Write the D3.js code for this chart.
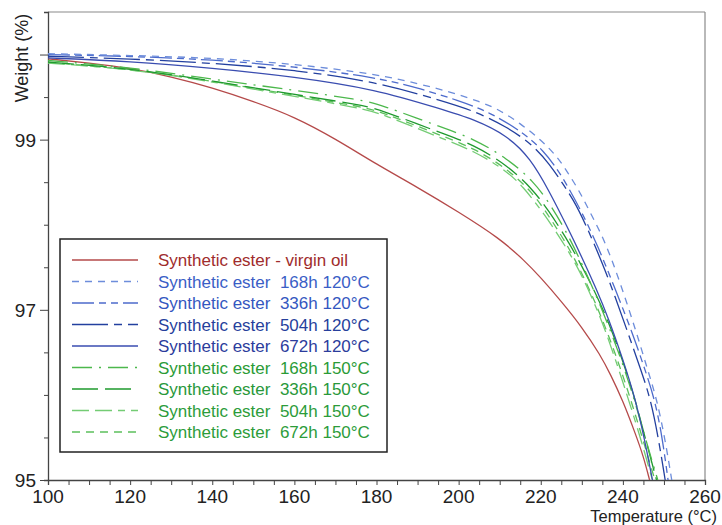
<!DOCTYPE html>
<html><head><meta charset="utf-8">
<script src="https://cdn.jsdelivr.net/npm/d3@7"></script>
<style>
body{margin:0;background:#fff;}
text{font-family:"Liberation Sans",Arial,sans-serif;}
</style></head>
<body><svg id="c" width="722" height="525"></svg>
<script>
// ---- data ----
const xTicks = [100,120,140,160,180,200,220,240,260];
const yLabels = [95,97,99];
const seriesLabels = [
 "Synthetic ester - virgin oil",
 "Synthetic ester\u00a0 168h 120°C",
 "Synthetic ester\u00a0 336h 120°C",
 "Synthetic ester\u00a0 504h 120°C",
 "Synthetic ester\u00a0 672h 120°C",
 "Synthetic ester\u00a0 168h 150°C",
 "Synthetic ester\u00a0 336h 150°C",
 "Synthetic ester\u00a0 504h 150°C",
 "Synthetic ester\u00a0 672h 150°C"
];
const virginT = [100,110,120,130,140,150,160,170,180,190,200,210,216,220,225,230,234.5,237,240,243,245,246.5];
const virginW = [99.95,99.90,99.84,99.74,99.61,99.45,99.27,99.01,98.71,98.44,98.15,97.84,97.58,97.38,97.10,96.80,96.47,96.24,95.93,95.55,95.28,95.0];
const b168T = [100,120,140,160,180,190,198,205,210,215,220,224,226.5,229.6,232.5,235.7,239.5,243.4,246,248.2,250.2,251.9];
const b168W = [100.01,99.99,99.96,99.89,99.77,99.66,99.56,99.45,99.35,99.19,99.00,98.80,98.62,98.38,98.10,97.80,97.30,96.72,96.30,95.96,95.50,95.0];
const b336T = [100,120,140,160,180,190,200,207.7,215.8,220.7,223.9,226,230,234,238,242.4,245.5,247.8,249.6,251.0];
const b336W = [100.00,99.98,99.94,99.86,99.73,99.61,99.46,99.32,99.08,98.87,98.66,98.50,98.15,97.74,97.26,96.72,96.28,95.94,95.50,95.0];
const b504T = [100,120,140,160,180,195.6,203.7,211.8,218.3,222.3,224.7,227.9,231,235,238,241.3,244.5,246.8,248.7,250.3];
const b504W = [99.98,99.95,99.90,99.82,99.68,99.46,99.34,99.15,98.93,98.70,98.53,98.30,98.00,97.55,97.17,96.72,96.28,95.94,95.48,95.0];
const b672T = [100,120,140,160,180,195.6,203.7,211.8,217.5,222,226.4,230,233.5,236.5,240,243,245.2,247.2];
const b672W = [99.96,99.92,99.84,99.74,99.59,99.36,99.24,99.05,98.78,98.40,97.98,97.62,97.25,96.90,96.42,95.96,95.50,95.0];
const g168T = [100,120,140,160,176,181,195.6,203.7,211.8,218.3,222.3,226,230,235,239,242.5,245.4,248.5];
const g168W = [99.93,99.85,99.71,99.58,99.47,99.41,99.15,99.01,98.78,98.51,98.24,97.94,97.55,97.00,96.50,96.00,95.50,95.0];
const g336T = [100,120,140,160,176,181,195.6,203.7,211.8,218,222,226,230,233.5,236.5,240,243,245.5,248.2];
const g336W = [99.91,99.84,99.69,99.53,99.41,99.35,99.08,98.94,98.70,98.42,98.16,97.86,97.52,97.18,96.86,96.40,95.95,95.48,95.0];
const g504T = [100,120,140,160,176,181,195.6,203.7,211.8,215.8,220,224,228.4,232,236,241.3,244.5,247.2];
const g504W = [99.90,99.83,99.68,99.51,99.37,99.31,99.02,98.87,98.63,98.44,98.18,97.90,97.56,97.20,96.74,95.96,95.46,95.0];
const g672T = [100,120,140,160,176,181,195.6,203.7,211.8,218,222,226,230,235,240,244,247.8];
const g672W = [99.91,99.83,99.69,99.52,99.39,99.33,99.05,98.90,98.66,98.38,98.10,97.80,97.44,96.90,96.24,95.62,95.0];

// ---- styles (kept separate from data) ----
const lineColors = ["#b54a4a","#6d8ddb","#4d6bcc","#23409f","#3a4db0","#4cb84c","#1f9a2e","#74cc74","#5cc05c"];
const textColors = ["#a02c2c","#3a5ec6","#3457c0","#263f9c","#2b3c9c","#2a9b36","#28983a","#2c9c3a","#2c9c3a"];
const dashes = [null,"7,6","22,5,7,5,7,5","36,6,8,6",null,"20,7,2,7","26,7","17,6,17,6,7,6","8,6"];

const seriesT = [virginT,b168T,b336T,b504T,b672T,g168T,g336T,g504T,g672T];
const seriesW = [virginW,b168W,b336W,b504W,b672W,g168W,g336W,g504W,g672W];
const series = seriesT.map((t,i)=>t.map((v,j)=>({t:v,w:seriesW[i][j]})));

const L=48,R=705,T=12,B=480;
const x = d3.scaleLinear().domain([100,260]).range([L,R]);
const y = d3.scaleLinear().domain([95,100.5]).range([B,T]);
const svg = d3.select("#c");

svg.append("defs").append("clipPath").attr("id","clip")
  .append("rect").attr("x",L).attr("y",T).attr("width",R-L).attr("height",B-T);

// frame top/right
svg.append("line").attr("x1",L).attr("x2",R).attr("y1",T).attr("y2",T).attr("stroke","#8a8a8a").attr("stroke-width",1.2);
svg.append("line").attr("x1",R).attr("x2",R).attr("y1",T).attr("y2",B).attr("stroke","#8a8a8a").attr("stroke-width",1.2);

// x axis
const xMinor = d3.range(100,261,5);
const gx = svg.append("g").attr("transform",`translate(0,${B})`)
  .call(d3.axisBottom(x).tickValues(xMinor).tickSize(5).tickFormat(""));
gx.select(".domain").attr("stroke","#444").attr("stroke-width",1.3);
gx.selectAll(".tick line").attr("stroke","#444").attr("stroke-width",1);
svg.append("g").selectAll("text").data(xTicks).join("text")
  .attr("x",d=>x(d)).attr("y",503).attr("text-anchor","middle")
  .attr("font-size",19).attr("fill","#222").text(d=>d);

// y axis
const yMinor = d3.range(95,100.01,0.5);
const gy = svg.append("g").attr("transform",`translate(${L},0)`)
  .call(d3.axisLeft(y).tickValues(yMinor).tickSize(4).tickFormat(""));
gy.select(".domain").attr("stroke","#444").attr("stroke-width",1.3);
gy.selectAll(".tick line").attr("stroke","#444").attr("stroke-width",1)
  .attr("x2",d=>(yLabels.includes(d)||d===100)?-8:-4);
svg.append("g").selectAll("text").data(yLabels).join("text")
  .attr("x",36).attr("y",d=>y(d)+7).attr("text-anchor","end")
  .attr("font-size",19).attr("fill","#222").text(d=>d);

// axis titles
svg.append("text").attr("transform","translate(28,58) rotate(-90)")
  .attr("text-anchor","middle").attr("font-size",18).attr("fill","#222").text("Weight (%)");
svg.append("text").attr("x",717).attr("y",522).attr("text-anchor","end")
  .attr("font-size",16.5).attr("fill","#222").text("Temperature (°C)");

// curves
const line = d3.line().x(d=>x(d.t)).y(d=>y(d.w)).curve(d3.curveBasis);
const gl = svg.append("g").attr("clip-path","url(#clip)");
const order = [0,8,7,6,5,4,3,2,1];
order.forEach(i=>{
  gl.append("path").attr("d",line(series[i])).attr("fill","none")
    .attr("stroke",lineColors[i]).attr("stroke-width",1.3)
    .attr("stroke-dasharray",dashes[i]);
});

// legend
const lg = svg.append("g");
lg.append("rect").attr("x",60).attr("y",239).attr("width",327).attr("height",213)
  .attr("fill","#fff").attr("stroke","#222").attr("stroke-width",1.5);
const rowY = i=>260+i*21.5;
seriesLabels.forEach((lab,i)=>{
  lg.append("line").attr("x1",72).attr("x2",138).attr("y1",rowY(i)).attr("y2",rowY(i))
    .attr("stroke",lineColors[i]).attr("stroke-width",1.4).attr("stroke-dasharray",dashes[i]);
  lg.append("text").attr("x",158).attr("y",rowY(i)+6).attr("font-size",17)
    .attr("fill",textColors[i]).text(lab);
});
</script></body></html>
